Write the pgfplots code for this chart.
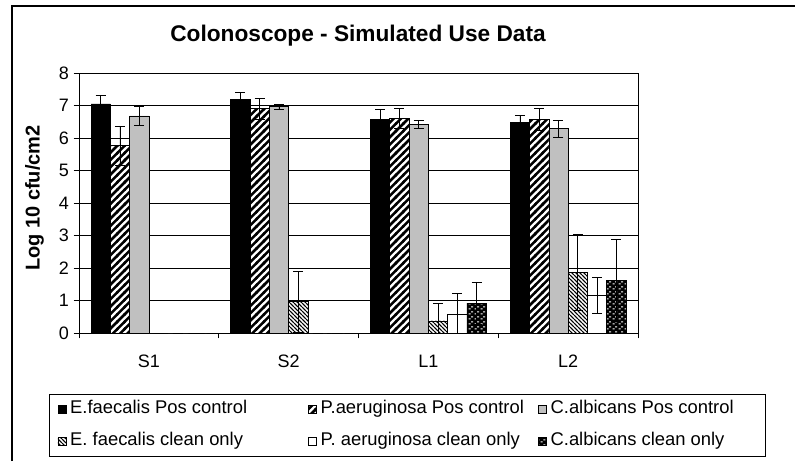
\documentclass[border=0pt]{standalone}
\usepackage{pgfplots}
\pgfplotsset{compat=1.18}
\usepackage{fontspec}
\setmainfont{Liberation Sans}
\usetikzlibrary{patterns}
\definecolor{bargray}{HTML}{C0C0C0}
\pgfdeclarepatternformonly{thickne}{\pgfqpoint{-1pt}{-1pt}}{\pgfqpoint{6.5pt}{6.5pt}}{\pgfqpoint{5.5pt}{5.5pt}}{%
  \pgfsetlinewidth{1.9pt}\pgfpathmoveto{\pgfqpoint{-1pt}{-1pt}}\pgfpathlineto{\pgfqpoint{6.5pt}{6.5pt}}\pgfusepath{stroke}}
\pgfdeclarepatternformonly{thinnw}{\pgfqpoint{-1pt}{-1pt}}{\pgfqpoint{4pt}{4pt}}{\pgfqpoint{3pt}{3pt}}{%
  \pgfsetlinewidth{0.7pt}\pgfpathmoveto{\pgfqpoint{-1pt}{4pt}}\pgfpathlineto{\pgfqpoint{4pt}{-1pt}}\pgfusepath{stroke}}
\pgfdeclarepatternformonly{cadash}{\pgfqpoint{0pt}{0pt}}{\pgfqpoint{4.5pt}{3.4pt}}{\pgfqpoint{4.5pt}{3.4pt}}{%
  \pgfsetlinewidth{0.8pt}%
  \pgfpathmoveto{\pgfqpoint{0.5pt}{0.85pt}}\pgfpathlineto{\pgfqpoint{2.2pt}{0.85pt}}%
  \pgfpathmoveto{\pgfqpoint{2.75pt}{2.55pt}}\pgfpathlineto{\pgfqpoint{4.45pt}{2.55pt}}\pgfusepath{stroke}}
\newcommand{\la}[1]{\makebox[178.5pt][l]{#1}}
\newcommand{\lb}[1]{\makebox[163pt][l]{#1}}
\newcommand{\lc}[1]{\makebox[155pt][l]{#1}}
\begin{document}
\begin{tikzpicture}
\path[use as bounding box] (0,0) rectangle (596.25pt,345.75pt);
\draw[line width=1pt] (9pt,0) -- (9pt,341.25pt) -- (596.25pt,341.25pt);
\node[font=\fontsize{17}{20}\selectfont\bfseries] at (268.5pt,318.75pt) {Colonoscope - Simulated Use Data};
\node[font=\fontsize{15}{18}\selectfont\bfseries, rotate=90] at (25.9pt,197.25pt) {Log 10 cfu/cm2};
\begin{axis}[
  at={(59.25pt,96pt)}, anchor=south west,
  scale only axis, width=419.25pt, height=195pt,
  xmin=-0.5, xmax=3.5, ymin=0, ymax=8,
  ytick={0,1,...,8},
  xtick={0,1,2,3}, xticklabels={S1,S2,L1,L2},
  minor xtick={-0.5,0.5,1.5,2.5,3.5},
  major x tick style={draw=none},
  minor tick length=4pt, major tick length=4pt,
  tick align=outside, xtick pos=bottom, ytick pos=left,
  ymajorgrids, grid style={black, line width=0.6pt},
  axis line style={line width=0.6pt},
  tick style={black, line width=0.6pt},
  ticklabel style={font=\fontsize{13.5}{16}\selectfont},
  xticklabel style={yshift=-9pt},
  /pgf/number format/assume math mode=true,
  ybar, bar width=0.138,
  every axis plot/.append style={draw=black, line width=0.5pt},
  error bars/y dir=both, error bars/y explicit,
  error bars/error mark=|,
  error bars/error bar style={line width=0.6pt, black, solid},
  error bars/error mark options={mark size=3.75pt, line width=0.6pt, black},
  legend columns=3,
  legend style={at={(0.5876,-0.354)}, anchor=center, draw=black, line width=0.6pt,
    font=\fontsize{13.8}{17}\selectfont, row sep=11pt, inner xsep=6pt, inner ysep=4.75pt,
    nodes={inner sep=0pt, text height=10pt, text depth=3pt},
    /tikz/every odd column/.append style={column sep=3pt},
    /tikz/every even column/.append style={column sep=0pt}},
  legend image code/.code={\draw[#1, line width=0.4pt] (0pt,-3pt) rectangle (6pt,3pt);},
]
\addplot[fill=black, bar shift=-0.345] coordinates
  {(0,7.05) +- (0,0.27) (1,7.2) +- (0,0.2) (2,6.57) +- (0,0.3) (3,6.47) +- (0,0.23)};
\addplot[fill=white, postaction={pattern=thickne, pattern color=black}, bar shift=-0.207] coordinates
  {(0,5.77) +- (0,0.6) (1,6.9) +- (0,0.33) (2,6.6) +- (0,0.31) (3,6.58) +- (0,0.34)};
\addplot[fill=bargray, bar shift=-0.069] coordinates
  {(0,6.68) +- (0,0.3) (1,6.96) +- (0,0.08) (2,6.43) +- (0,0.12) (3,6.29) +- (0,0.26)};
\addplot[fill=white, postaction={pattern=thinnw, pattern color=black}, bar shift=0.069] coordinates
  {(0,0) +- (0,0) (1,0.96) +- (0,0.93) (2,0.37) +- (0,0.53) (3,1.86) +- (0,1.16)};
\addplot[fill=white, bar shift=0.207] coordinates
  {(0,0) +- (0,0) (1,0) +- (0,0) (2,0.58) +- (0,0.64) (3,1.16) +- (0,0.56)};
\addplot[fill=black, postaction={pattern=cadash, pattern color=white}, bar shift=0.345] coordinates
  {(0,0) +- (0,0) (1,0) +- (0,0) (2,0.92) +- (0,0.65) (3,1.62) +- (0,1.25)};
\legend{\la{E.faecalis Pos control}, \lb{P.aeruginosa Pos control}, \lc{C.albicans Pos control},
  \la{E. faecalis clean only}, \lb{P. aeruginosa clean only}, \lc{C.albicans clean only}}
\end{axis}
\end{tikzpicture}
\end{document}
